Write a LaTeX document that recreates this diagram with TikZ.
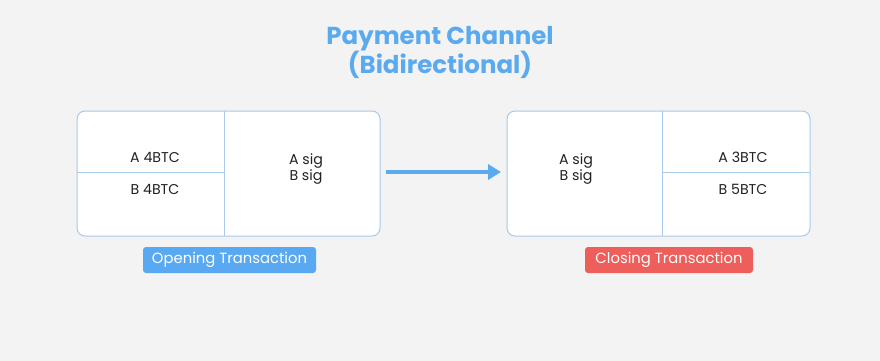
\documentclass[tikz,border=0pt]{standalone}
\usepackage{fontspec}
\setmainfont{Poppins}
\usetikzlibrary{arrows.meta}
\definecolor{bg}{HTML}{F3F3F3}
\definecolor{titleblue}{HTML}{5AAAF0}
\definecolor{edge}{HTML}{A6C9EC}
\definecolor{openfill}{HTML}{58A9F1}
\definecolor{closefill}{HTML}{EE5E5A}
\definecolor{ink}{HTML}{222222}
\tikzset{
  txbox/.style={draw=edge, line width=1pt, fill=white, rounded corners=8pt},
  divider/.style={draw=edge, line width=1pt},
  celltext/.style={text=ink, font=\fontsize{14.2}{16.5}\selectfont, align=center, inner sep=0pt},
  tag/.style={rounded corners=3pt, text=white, font=\fontsize{14.8}{17}\selectfont, inner sep=0pt},
  flow/.style={draw=titleblue, line width=4.5pt, -{Triangle[length=13pt,width=15pt]}}
}
\begin{document}
\begin{tikzpicture}[x=1pt,y=-1pt]
  \fill[bg] (0,0) rectangle (880,361);
  \useasboundingbox (0,0) rectangle (880,361);

  % title
  \node[text=titleblue, font=\fontsize{24.5}{29}\selectfont\bfseries, align=center] (title) at (440,52)
    {Payment Channel\\(Bidirectional)};

  % opening transaction
  \draw[txbox] (77,111) rectangle (380,236);
  \coordinate (odtop) at (224,111);
  \coordinate (odbot) at (224,236);
  \coordinate (ohl) at (77,172);
  \coordinate (ohr) at (224,172);
  \draw[divider] (odtop) -- (odbot);
  \draw[divider] (ohl) -- (ohr);
  \node[celltext] (oa) at (155,157) {A 4BTC};
  \node[celltext] (ob) at (155,189) {B 4BTC};
  \node[celltext] (osig) at (306,169) {A sig\\B sig};
  \node[tag, fill=openfill, minimum width=173pt, minimum height=26pt] (open) at (229.5,260) {Opening Transaction};

  % closing transaction
  \draw[txbox] (507,111) rectangle (810,236);
  \coordinate (cdtop) at (662,111);
  \coordinate (cdbot) at (662,236);
  \coordinate (chl) at (662,172);
  \coordinate (chr) at (810,172);
  \draw[divider] (cdtop) -- (cdbot);
  \draw[divider] (chl) -- (chr);
  \node[celltext] (csig) at (576,169) {A sig\\B sig};
  \node[celltext] (ca) at (743,157) {A 3BTC};
  \node[celltext] (cb) at (743,189) {B 5BTC};
  \node[tag, fill=closefill, minimum width=168pt, minimum height=26pt] (close) at (669,260) {Closing Transaction};

  % channel update arrow
  \coordinate (as) at (386,172);
  \coordinate (ae) at (501,172);
  \draw[flow] (as) -- (ae);
\end{tikzpicture}
\end{document}
